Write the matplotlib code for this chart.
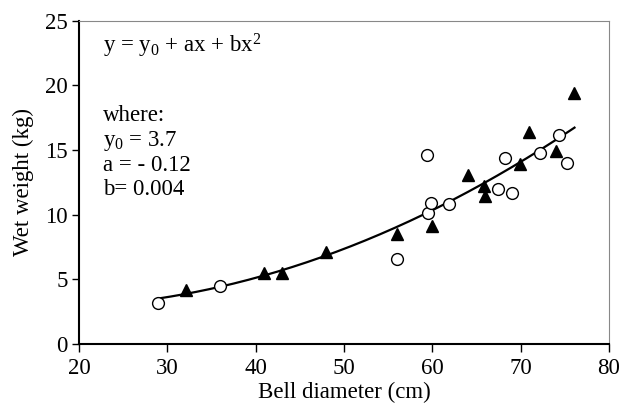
import numpy as np
import matplotlib.pyplot as plt

plt.rcParams['font.family'] = ['Liberation Serif', 'DejaVu Serif']
plt.rcParams['mathtext.fontset'] = 'custom'
plt.rcParams['mathtext.rm'] = 'Liberation Serif'
plt.rcParams['mathtext.it'] = 'Liberation Serif'

# open circles
circ_x = [29.0, 36.0, 56.0, 59.4, 59.5, 59.8, 61.9, 67.4, 68.2, 69.0, 72.2, 74.4, 75.2]
circ_y = [3.2, 4.5, 6.6, 14.6, 10.15, 10.9, 10.8, 12.0, 14.4, 11.65, 14.75, 16.2, 14.0]

# filled triangles
tri_x = [32.1, 41.0, 43.0, 48.0, 56.0, 60.0, 64.0, 65.9, 66.0, 69.9, 71.0, 74.0, 76.1]
tri_y = [4.2, 5.5, 5.5, 7.1, 8.5, 9.1, 13.05, 12.2, 11.45, 13.9, 16.4, 14.9, 19.4]

# quadratic fit through all points
all_x = np.array(circ_x + tri_x)
all_y = np.array(circ_y + tri_y)
b, a, y0 = np.polyfit(all_x, all_y, 2)
xf = np.linspace(min(all_x), max(all_x), 200)
yf = y0 + a * xf + b * xf ** 2

fig = plt.figure(figsize=(6.22, 4.15), dpi=100)
ax = fig.add_axes([0.127, 0.171, 0.852, 0.779])

ax.plot(xf, yf, color='black', lw=1.6, zorder=2)
ax.plot(circ_x, circ_y, 'o', ms=8.5, mfc='white', mec='black', mew=1.0, zorder=3)
ax.plot(tri_x, tri_y, '^', ms=8.5, color='black', zorder=3)

ax.set_xlim(20, 80)
ax.set_ylim(0, 25)
ax.set_xticks(range(20, 81, 10))
ax.set_yticks(range(0, 26, 5))
ax.tick_params(axis='x', direction='out', length=6, width=1, labelsize=16.5, pad=4)
ax.tick_params(axis='y', direction='out', length=5, width=1, labelsize=16.5, pad=3)
ax.set_xlabel('Bell diameter (cm)', fontsize=16.5, labelpad=2)
ax.set_ylabel('Wet weight (kg)', fontsize=16.5, labelpad=8)

for s in ['left', 'bottom']:
    ax.spines[s].set_linewidth(1.5)
for s in ['top', 'right']:
    ax.spines[s].set_color('#888888')
    ax.spines[s].set_linewidth(0.8)

ax.text(0.045, 0.965, 'y = y$_0$ + ax + bx$^2$', transform=ax.transAxes,
        fontsize=16.5, va='top')
ax.text(0.045, 0.74, 'where:\ny$_0$ = 3.7\na = - 0.12\nb= 0.004',
        transform=ax.transAxes, fontsize=16.5, va='top', linespacing=1.17)

fig.savefig('out.png', dpi=100)
